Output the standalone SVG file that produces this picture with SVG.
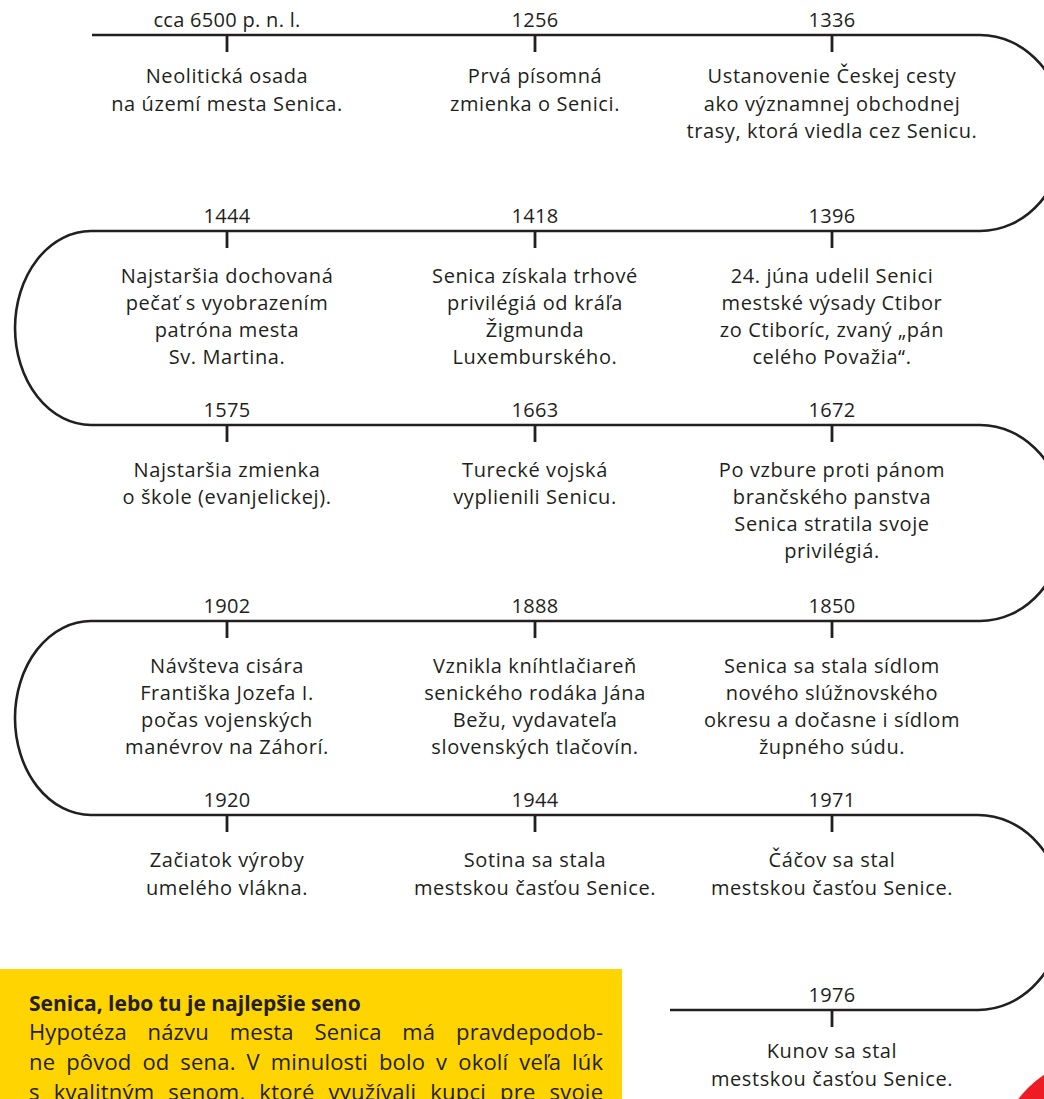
<svg xmlns="http://www.w3.org/2000/svg" width="1044" height="1099" viewBox="0 0 1044 1099">
<style>
.line{fill:none;stroke:#231f20;stroke-width:2.6}
.tick{stroke:#231f20;stroke-width:2.8}
.yr{font-family:"Open Sans","Liberation Sans",sans-serif;font-size:20px;fill:#231f20;text-anchor:middle;letter-spacing:0.3px}
.lb{font-family:"Open Sans","Liberation Sans",sans-serif;font-size:20px;fill:#231f20;text-anchor:middle;letter-spacing:0.6px}
.bx{font-family:"Open Sans","Liberation Sans",sans-serif;font-size:22px;fill:#231f20}
.bxt{font-family:"Open Sans","Liberation Sans",sans-serif;font-size:21px;font-weight:bold;fill:#231f20}
</style>
<rect width="1044" height="1099" fill="#ffffff"/>
<g id="connectors">
<path class="line" d="M92 35 H980 A85 98 0 0 1 980 231 H91 A76 97 0 0 0 91 425 H980 A85 98 0 0 1 980 621 H91 A76 97 0 0 0 91 815 H978 A85 97.5 0 0 1 978 1010 H670"/>
</g>
<g id="e6500"><line class="tick" x1="227" y1="35" x2="227" y2="52"/><text class="yr" x="227" y="27">cca 6500 p. n. l.</text><text class="lb" x="227" y="83">Neolitická osada<tspan x="227" dy="27.5">na území mesta Senica.</tspan></text></g>
<g id="e1256"><line class="tick" x1="535" y1="35" x2="535" y2="52"/><text class="yr" x="535" y="27">1256</text><text class="lb" x="535" y="83">Prvá písomná<tspan x="535" dy="27.5">zmienka o Senici.</tspan></text></g>
<g id="e1336"><line class="tick" x1="832" y1="35" x2="832" y2="52"/><text class="yr" x="832" y="27">1336</text><text class="lb" x="832" y="83">Ustanovenie Českej cesty<tspan x="832" dy="27.5">ako významnej obchodnej</tspan><tspan x="832" dy="27.5">trasy, ktorá viedla cez Senicu.</tspan></text></g>

<g id="e1444"><line class="tick" x1="227" y1="231" x2="227" y2="248"/><text class="yr" x="227" y="223">1444</text><text class="lb" x="227" y="283">Najstaršia dochovaná<tspan x="227" dy="27">pečať s vyobrazením</tspan><tspan x="227" dy="27">patróna mesta</tspan><tspan x="227" dy="27">Sv. Martina.</tspan></text></g>
<g id="e1418"><line class="tick" x1="535" y1="231" x2="535" y2="248"/><text class="yr" x="535" y="223">1418</text><text class="lb" x="535" y="283">Senica získala trhové<tspan x="535" dy="27">privilégiá od kráľa</tspan><tspan x="535" dy="27">Žigmunda</tspan><tspan x="535" dy="27">Luxemburského.</tspan></text></g>
<g id="e1396"><line class="tick" x1="832" y1="231" x2="832" y2="248"/><text class="yr" x="832" y="223">1396</text><text class="lb" x="832" y="283">24. júna udelil Senici<tspan x="832" dy="27">mestské výsady Ctibor</tspan><tspan x="832" dy="27">zo Ctiboríc, zvaný „pán</tspan><tspan x="832" dy="27">celého Považia“.</tspan></text></g>

<g id="e1575"><line class="tick" x1="227" y1="425" x2="227" y2="442"/><text class="yr" x="227" y="417">1575</text><text class="lb" x="227" y="477">Najstaršia zmienka<tspan x="227" dy="27">o škole (evanjelickej).</tspan></text></g>
<g id="e1663"><line class="tick" x1="535" y1="425" x2="535" y2="442"/><text class="yr" x="535" y="417">1663</text><text class="lb" x="535" y="477">Turecké vojská<tspan x="535" dy="27">vyplienili Senicu.</tspan></text></g>
<g id="e1672"><line class="tick" x1="832" y1="425" x2="832" y2="442"/><text class="yr" x="832" y="417">1672</text><text class="lb" x="832" y="477">Po vzbure proti pánom<tspan x="832" dy="27">brančského panstva</tspan><tspan x="832" dy="27">Senica stratila svoje</tspan><tspan x="832" dy="27">privilégiá.</tspan></text></g>

<g id="e1902"><line class="tick" x1="227" y1="621" x2="227" y2="638"/><text class="yr" x="227" y="613">1902</text><text class="lb" x="227" y="673">Návšteva cisára<tspan x="227" dy="27">Františka Jozefa I.</tspan><tspan x="227" dy="27">počas vojenských</tspan><tspan x="227" dy="27">manévrov na Záhorí.</tspan></text></g>
<g id="e1888"><line class="tick" x1="535" y1="621" x2="535" y2="638"/><text class="yr" x="535" y="613">1888</text><text class="lb" x="535" y="673">Vznikla kníhtlačiareň<tspan x="535" dy="27">senického rodáka Jána</tspan><tspan x="535" dy="27">Bežu, vydavateľa</tspan><tspan x="535" dy="27">slovenských tlačovín.</tspan></text></g>
<g id="e1850"><line class="tick" x1="832" y1="621" x2="832" y2="638"/><text class="yr" x="832" y="613">1850</text><text class="lb" x="832" y="673">Senica sa stala sídlom<tspan x="832" dy="27">nového slúžnovského</tspan><tspan x="832" dy="27">okresu a dočasne i sídlom</tspan><tspan x="832" dy="27">župného súdu.</tspan></text></g>

<g id="e1920"><line class="tick" x1="227" y1="815" x2="227" y2="832"/><text class="yr" x="227" y="807">1920</text><text class="lb" x="227" y="867">Začiatok výroby<tspan x="227" dy="27.5">umelého vlákna.</tspan></text></g>
<g id="e1944"><line class="tick" x1="535" y1="815" x2="535" y2="832"/><text class="yr" x="535" y="807">1944</text><text class="lb" x="535" y="867">Sotina sa stala<tspan x="535" dy="27.5">mestskou časťou Senice.</tspan></text></g>
<g id="e1971"><line class="tick" x1="832" y1="815" x2="832" y2="832"/><text class="yr" x="832" y="807">1971</text><text class="lb" x="832" y="867">Čáčov sa stal<tspan x="832" dy="27.5">mestskou časťou Senice.</tspan></text></g>

<g id="e1976"><line class="tick" x1="832" y1="1010" x2="832" y2="1027"/><text class="yr" x="832" y="1002">1976</text><text class="lb" x="832" y="1058">Kunov sa stal<tspan x="832" dy="27.5">mestskou časťou Senice.</tspan></text></g>

<g id="infobox">
<rect x="0" y="969" width="622" height="130" fill="#ffd400"/>
<text class="bxt" x="29" y="1011">Senica, lebo tu je najlepšie seno</text>
<text class="bx" x="29" y="1040" word-spacing="15" textLength="574" lengthAdjust="spacing">Hypotéza názvu mesta Senica má pravdepodob-</text>
<text class="bx" x="29" y="1070" word-spacing="5" textLength="574" lengthAdjust="spacing">ne pôvod od sena. V minulosti bolo v okolí veľa lúk</text>
<text class="bx" x="29" y="1100" word-spacing="8" textLength="574" lengthAdjust="spacing">s kvalitným senom, ktoré využívali kupci pre svoje</text>
</g>
<circle id="badge" cx="1105" cy="1165" r="109" fill="#ed1c24"/>
</svg>
